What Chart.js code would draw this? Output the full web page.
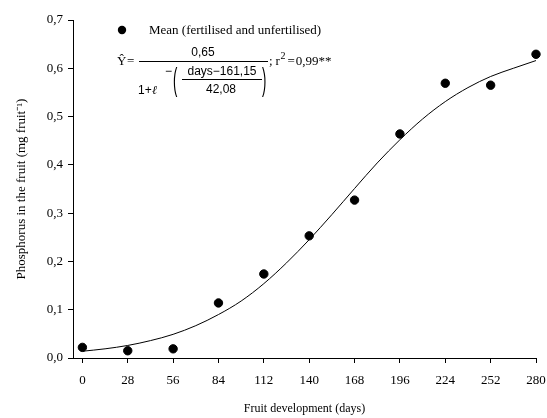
<!DOCTYPE html>
<html>
<head>
<meta charset="utf-8">
<script src="https://cdn.jsdelivr.net/npm/chart.js@4/dist/chart.umd.min.js"></script>
<style>
  html, body { margin: 0; padding: 0; background: #fff; }
  #wrap { width: 547px; height: 418px; }
</style>
</head>
<body>
<div id="wrap"><canvas id="c" width="547" height="418"></canvas></div>
<script>
// Observed means (days, mg fruit^-1)
const days = [0, 28, 56, 84, 112, 140, 168, 196, 224, 252, 280];
const meanValues = [0.022, 0.015, 0.019, 0.114, 0.174, 0.253, 0.327, 0.464, 0.569, 0.565, 0.629];
// Fitted curve
const curveDays = [0, 14, 28, 42, 56, 70, 84, 98, 112, 126, 140, 154, 168, 182, 196, 210, 224, 238, 252, 266, 280];
const curveValues = [0.014, 0.019, 0.026, 0.036, 0.049, 0.067, 0.090, 0.118, 0.154, 0.197, 0.245, 0.297, 0.351, 0.404, 0.452, 0.495, 0.531, 0.560, 0.583, 0.600, 0.616];
const xTicks = [0, 28, 56, 84, 112, 140, 168, 196, 224, 252, 280];
const yTicks = [0, 0.1, 0.2, 0.3, 0.4, 0.5, 0.6, 0.7];
const legendLabel = 'Mean (fertilised and unfertilised)';
const xTitle = 'Fruit development (days)';
const yTitle = 'Phosphorus in the fruit (mg fruit\u207B\u00B9)';

const serif = '"Liberation Serif", "Times New Roman", serif';
const sans = '"Liberation Sans", Arial, sans-serif';

const overlay = {
  id: 'overlay',
  afterDraw(chart) {
    const ctx = chart.ctx;
    ctx.save();
    ctx.fillStyle = '#000';
    ctx.strokeStyle = '#000';
    // legend
    ctx.beginPath();
    ctx.arc(122, 30, 4.2, 0, Math.PI * 2);
    ctx.fill();
    ctx.font = '13px ' + serif;
    ctx.textBaseline = 'middle';
    ctx.textAlign = 'left';
    ctx.fillText(legendLabel, 149, 31);

    // equation
    ctx.font = '13px ' + serif;
    ctx.fillText('\u0176', 117, 62);
    ctx.fillText('=', 127, 62);
    ctx.lineWidth = 1;
    ctx.beginPath(); ctx.moveTo(139, 61.5); ctx.lineTo(268, 61.5); ctx.stroke();
    ctx.font = '12px ' + sans;
    ctx.textAlign = 'center';
    ctx.fillText('0,65', 203, 53);
    ctx.textAlign = 'left';
    ctx.fillText('1+', 138, 91);
    ctx.font = 'italic 12px ' + serif;
    ctx.fillText('\u2113', 152, 91);
    ctx.font = '12px ' + sans;
    ctx.fillText('\u2212', 165, 72);
    // big parentheses
    ctx.save();
    ctx.translate(173, 81);
    ctx.scale(1, 2.4);
    ctx.font = '13px ' + sans;
    ctx.fillText('(', 0, 0);
    ctx.restore();
    ctx.save();
    ctx.translate(262, 81);
    ctx.scale(1, 2.4);
    ctx.font = '13px ' + sans;
    ctx.fillText(')', 0, 0);
    ctx.restore();
    ctx.textAlign = 'center';
    ctx.fillText('days\u2212161,15', 222, 72);
    ctx.beginPath(); ctx.moveTo(182, 79.5); ctx.lineTo(262, 79.5); ctx.stroke();
    ctx.fillText('42,08', 221, 90);
    ctx.textAlign = 'left';
    ctx.font = '13px ' + serif;
    let px = 269;
    ctx.fillText(';', px, 62);
    px += ctx.measureText(';').width + 3;
    ctx.fillText('r', px, 62);
    px += ctx.measureText('r').width + 0.5;
    ctx.font = '10px ' + serif;
    ctx.fillText('2', px, 56);
    px += ctx.measureText('2').width + 2;
    ctx.font = '13px ' + serif;
    ctx.fillText('=', px, 62);
    px += ctx.measureText('=').width + 1;
    ctx.fillText('0,99**', px, 62);
    ctx.restore();
  }
};

new Chart(document.getElementById('c'), {
  type: 'scatter',
  data: {
    datasets: [
      {
        label: legendLabel,
        data: days.map((d, i) => ({ x: d, y: meanValues[i] })),
        backgroundColor: '#000',
        borderColor: '#000',
        pointRadius: 4.2,
        pointHoverRadius: 4.2,
        showLine: false,
        clip: false,
        order: 1
      },
      {
        label: 'fit',
        data: curveDays.map((d, i) => ({ x: d, y: curveValues[i] })),
        borderColor: '#000',
        borderWidth: 1,
        pointRadius: 0,
        showLine: true,
        cubicInterpolationMode: 'monotone',
        fill: false,
        order: 2
      }
    ]
  },
  options: {
    responsive: false,
    animation: false,
    devicePixelRatio: 1,
    layout: { padding: { left: 0, right: 11, top: 20, bottom: 0 } },
    plugins: { legend: { display: false }, tooltip: { enabled: false } },
    scales: {
      x: {
        type: 'linear',
        min: -5.8,
        max: 280,
        afterBuildTicks: (s) => { s.ticks = xTicks.map(v => ({ value: v })); },
        afterFit: (s) => { s.height = 60; s.paddingLeft = 0; s.paddingRight = 0; },
        grid: { drawOnChartArea: false, drawTicks: true, tickLength: 5, color: '#000' },
        border: { display: true, color: '#000', width: 1 },
        ticks: { color: '#000', font: { family: serif, size: 13 }, padding: 10, maxRotation: 0, autoSkip: false },
        title: { display: true, text: xTitle, color: '#000', font: { family: serif, size: 12 }, padding: { top: 4, bottom: 2 } }
      },
      y: {
        min: 0,
        max: 0.7,
        afterBuildTicks: (s) => { s.ticks = yTicks.map(v => ({ value: v })); },
        afterFit: (s) => { s.width = 73; s.paddingTop = 0; s.paddingBottom = 0; },
        grid: { drawOnChartArea: false, drawTicks: true, tickLength: 5, color: '#000' },
        border: { display: true, color: '#000', width: 1 },
        ticks: { color: '#000', font: { family: serif, size: 13 }, padding: 5,
          callback: (v) => v.toFixed(1).replace('.', ',') },
        title: { display: true, text: yTitle, color: '#000', font: { family: serif, size: 13 }, padding: { top: 14, bottom: 0 } }
      }
    }
  },
  plugins: [overlay]
});
</script>
</body>
</html>
